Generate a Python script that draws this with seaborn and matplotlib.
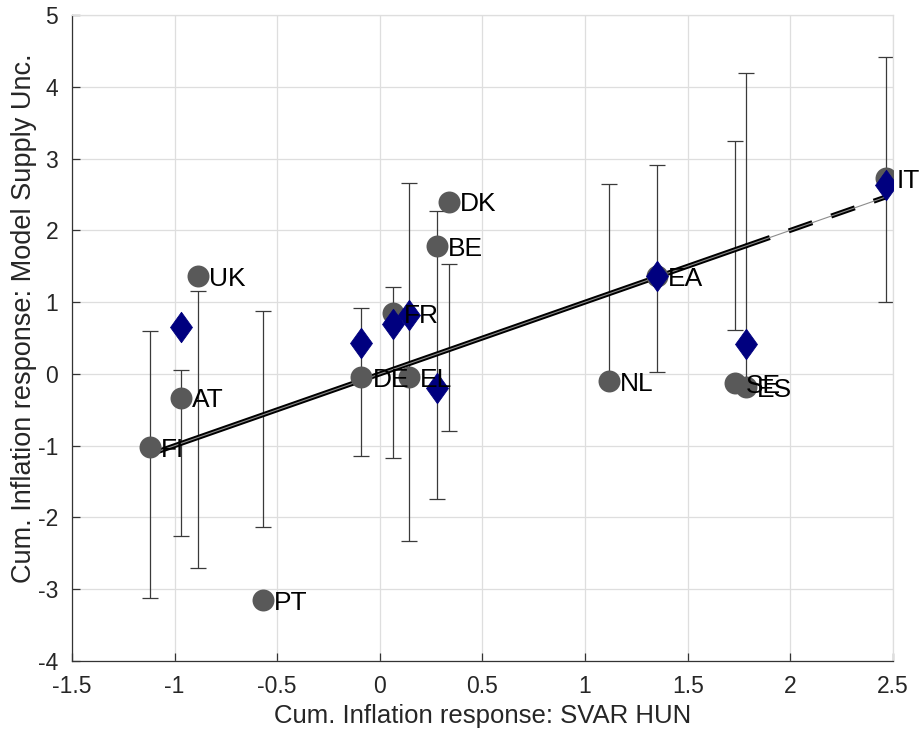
import numpy as np
import pandas as pd
import matplotlib
matplotlib.use("Agg")
import matplotlib.pyplot as plt
import seaborn as sns

# Cumulative inflation responses by country
countries = ['FI', 'AT', 'UK', 'PT', 'DE', 'FR', 'EL', 'BE', 'DK', 'NL', 'EA', 'SE', 'ES', 'IT']
svar_x = [-1.12, -0.97, -0.885, -0.57, -0.09, 0.063, 0.14, 0.277, 0.336, 1.115, 1.35, 1.73, 1.785, 2.465]
model_y = [-1.02, -0.33, 1.36, -3.15, -0.05, 0.85, -0.05, 1.78, 2.40, -0.10, 1.365, -0.13, -0.18, 2.73]
band_lo = [-3.12, -2.26, -2.70, -2.13, -1.14, -1.17, -2.33, -1.74, -0.80, -0.08, 0.03, 0.61, -0.15, 1.00]
band_hi = [0.60, 0.05, 1.15, 0.87, 0.92, 1.21, 2.66, 2.27, 1.53, 2.65, 2.91, 3.25, 4.19, 4.42]

# Alternative model responses for a subset of countries
alt_countries = ['AT', 'DE', 'FR', 'EL', 'BE', 'EA', 'ES', 'IT']
alt_y = [0.65, 0.43, 0.70, 0.82, -0.20, 1.365, 0.42, 2.63]

x_ticks = [-1.5, -1, -0.5, 0, 0.5, 1, 1.5, 2, 2.5]
y_ticks = [-4, -3, -2, -1, 0, 1, 2, 3, 4, 5]

df = pd.DataFrame({'country': countries, 'svar': svar_x, 'model': model_y,
                   'lo': band_lo, 'hi': band_hi})
svar_of = dict(zip(countries, svar_x))
alt_df = pd.DataFrame({'country': alt_countries,
                       'svar': [svar_of[c] for c in alt_countries],
                       'model': alt_y})

sns.set_theme(style="white")
plt.rcParams['font.family'] = ['Liberation Sans', 'DejaVu Sans']

fig = plt.figure(figsize=(9.2, 7.36), dpi=100)
ax = fig.add_axes([72 / 920, 1 - 661 / 736, (893 - 72) / 920, (661 - 15) / 736])

# Error bands
ax.errorbar(df['svar'], (df['lo'] + df['hi']) / 2,
            yerr=(df['hi'] - df['lo']) / 2, fmt='none',
            ecolor='#3a3a3a', elinewidth=0.9, capsize=6, capthick=0.9, zorder=2)

# 45-degree line: solid over the bulk of the sample, dashed beyond
x_min, x_split, x_max = min(svar_x), svar_of['ES'], max(svar_x)
solid = pd.DataFrame({'x': [x_min, x_split], 'y': [x_min, x_split]})
dashed = pd.DataFrame({'x': [x_split, x_max], 'y': [x_split, x_max]})
full = pd.DataFrame({'x': [x_min, x_max], 'y': [x_min, x_max]})
sns.lineplot(data=solid, x='x', y='y', ax=ax, color='black', lw=3.6, zorder=3)
sns.lineplot(data=dashed, x='x', y='y', ax=ax, color='black', lw=3.6, zorder=3)
ax.lines[-1].set_dashes([5, 4])
sns.lineplot(data=full, x='x', y='y', ax=ax, color='#8c8c8c', lw=0.8, zorder=4)

# Country points and alternative-model diamonds
sns.scatterplot(data=df, x='svar', y='model', ax=ax, color='#595959',
                s=250, edgecolor='#595959', linewidth=0, zorder=5)
diamond = [(-0.36, 0), (0, 0.5), (0.36, 0), (0, -0.5), (-0.36, 0)]
sns.scatterplot(data=alt_df, x='svar', y='model', ax=ax, color='#00007f',
                marker=diamond, s=480, edgecolor='#00007f', linewidth=0.6, zorder=6)

for c, xv, yv in zip(countries, svar_x, model_y):
    ax.annotate(c, (xv, yv), xytext=(8, -2), textcoords='offset points',
                ha='left', va='center', fontsize=19, color='black', zorder=7)

ax.set_xlim(-1.5, 2.5)
ax.set_ylim(-4, 5)
ax.set_xticks(x_ticks)
ax.set_yticks(y_ticks)
ax.set_xticklabels([f'{t:g}' for t in x_ticks], fontsize=16.5)
ax.set_yticklabels([f'{t:g}' for t in y_ticks], fontsize=16.5)
ax.grid(True, color='#dedede', lw=0.9)
ax.set_axisbelow(True)
ax.tick_params(direction='in', length=6, width=0.9, color='#333333',
               pad=10, bottom=True, left=True)
for side in ('left', 'bottom'):
    ax.spines[side].set_color('#333333')
    ax.spines[side].set_linewidth(0.9)
for side in ('top', 'right'):
    ax.spines[side].set_color('#dedede')
    ax.spines[side].set_linewidth(0.9)

ax.set_xlabel('Cum. Inflation response: SVAR HUN', fontsize=18.5)
ax.set_ylabel('Cum. Inflation response: Model Supply Unc.', fontsize=19.5)
ax.xaxis.set_label_coords(0.5, -0.066)
ax.yaxis.set_label_coords(-0.043, 0.53)

fig.savefig('out.png', dpi=100, facecolor='white')
